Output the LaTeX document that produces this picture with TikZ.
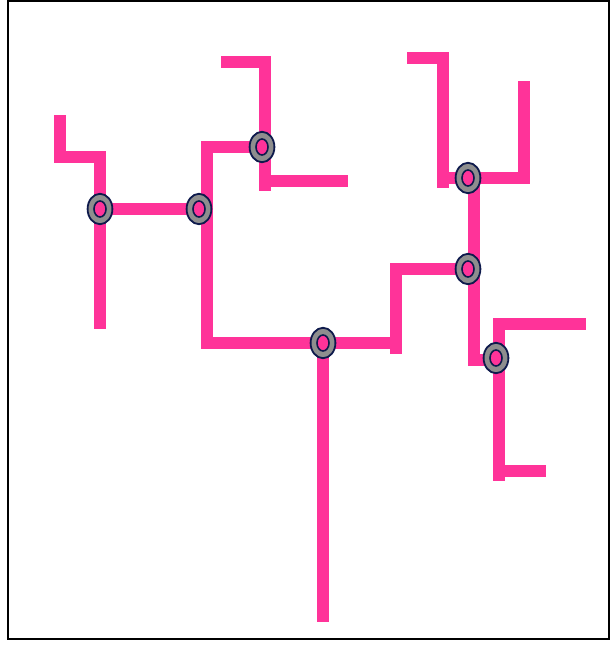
\documentclass[tikz,border=0pt]{standalone}
\usepackage{tikz}
\usetikzlibrary{positioning,shapes.geometric}
\definecolor{pipepink}{HTML}{FF3399}
\definecolor{ringgray}{HTML}{8E8E8E}
\definecolor{ringnavy}{HTML}{0E1A4C}
\tikzset{
  pipe/.style={draw=pipepink, line width=0.28cm, line cap=rect, line join=miter},
  ring/.style={ellipse, draw=ringnavy, line width=0.045cm, fill=ringgray, minimum width=0.62cm, minimum height=0.76cm, inner sep=0pt,
    path picture={\draw[ringnavy, line width=0.04cm, fill=pipepink] (path picture bounding box.center) ellipse (0.15cm and 0.2cm);}},
  frame/.style={draw=black, line width=0.05cm}
}
\begin{document}
\begin{tikzpicture}[x=0.025cm, y=-0.025cm]
  \useasboundingbox (0,0) rectangle (610,648);
  \draw[frame] (8,1) rectangle (609,639);
  % junction points
  \coordinate (jleft) at (100,209);
  \coordinate (jmid) at (199,209);
  \coordinate (jtop) at (262,147);
  \coordinate (jroot) at (323,343);
  \coordinate (jfork) at (468,178);
  \coordinate (jstep) at (468,269);
  \coordinate (jlow) at (496,358);
  % pipes
  \draw[pipe] (60,121) -- (60,157) -- (100,157) -- (100,323);
  \draw[pipe] (jleft) -- (205,209);
  \draw[pipe] (jtop) -- (207,147) -- (207,343) -- (396,343);
  \draw[pipe] (396,348) -- (396,269) -- (jstep);
  \draw[pipe] (227,62) -- (265,62) -- (265,185);
  \draw[pipe] (265,181) -- (342,181);
  \draw[pipe] (jroot) -- (323,616);
  \draw[pipe] (413,58) -- (443,58) -- (443,182);
  \draw[pipe] (443,178) -- (524,178) -- (524,87);
  \draw[pipe] (474,178) -- (474,360) -- (496,360);
  \draw[pipe] (580,324) -- (499,324) -- (499,475);
  \draw[pipe] (499,471) -- (540,471);
  % rings
  \node[ring] (ringleft) at (jleft) {};
  \node[ring] (ringmid) at (jmid) {};
  \node[ring] (ringtop) at (jtop) {};
  \node[ring] (ringroot) at (jroot) {};
  \node[ring] (ringfork) at (jfork) {};
  \node[ring] (ringstep) at (jstep) {};
  \node[ring] (ringlow) at (jlow) {};
\end{tikzpicture}
\end{document}
